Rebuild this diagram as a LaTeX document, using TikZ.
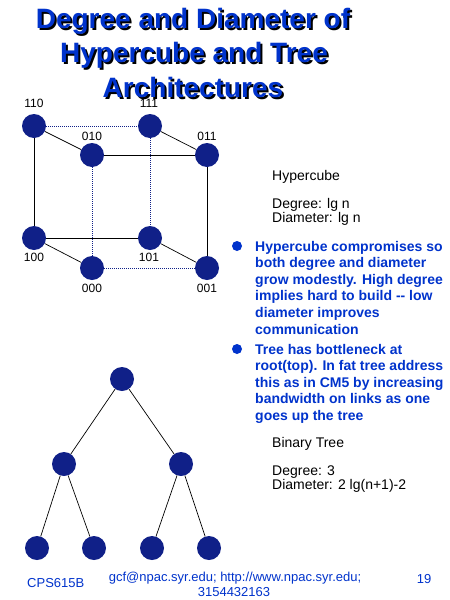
\documentclass[tikz,border=0pt]{standalone}
\usepackage{fontspec}
\setmainfont{Liberation Sans}
\definecolor{navy}{RGB}{16,32,136}
\definecolor{tblue}{RGB}{0,51,204}
\begin{document}
\begin{tikzpicture}[x=1pt,y=-1pt,
  vtx/.style={circle,fill=navy,minimum size=24pt,inner sep=0pt},
  lbl/.style={font=\fontsize{12}{14}\selectfont,anchor=base,inner sep=0pt},
  solidedge/.style={draw=black,line width=0.7pt},
  hidden/.style={draw=navy,line width=1pt,densely dotted},
  info/.style={font=\fontsize{14}{14}\selectfont,anchor=base west,inner sep=0pt},
  btext/.style={font=\fontsize{14}{14}\selectfont\bfseries,text=tblue,anchor=base west,inner sep=0pt},
  bdot/.style={circle,fill=tblue,minimum size=10pt,inner sep=0pt},
  ttl/.style={font=\fontsize{28}{28}\selectfont\bfseries,anchor=base,inner sep=0pt},
  foot/.style={font=\fontsize{13}{13}\selectfont,text=tblue,inner sep=0pt}]
\useasboundingbox (0,0) rectangle (450,600);
\fill[white] (0,0) rectangle (450,600);

% title with shadow
\node[ttl,text=black] (t1s) at (195,30) {Degree and Diameter of};
\node[ttl,text=tblue] (t1) at (193,28) {Degree and Diameter of};
\node[ttl,text=black] (t2s) at (196,64) {Hypercube and Tree};
\node[ttl,text=tblue] (t2) at (194,62) {Hypercube and Tree};
\node[ttl,text=black] (t3s) at (195,99) {Architectures};
\node[ttl,text=tblue] (t3) at (193,97) {Architectures};

% hypercube
\node[vtx] (n110) at (34,126) {};
\node[vtx] (n111) at (150,126) {};
\node[vtx] (n010) at (92,155) {};
\node[vtx] (n011) at (207,155) {};
\node[vtx] (n100) at (34,238) {};
\node[vtx] (n101) at (150,238) {};
\node[vtx] (n000) at (92,268) {};
\node[vtx] (n001) at (207,268) {};

\draw[hidden] (n110) -- (n111);
\draw[hidden] (n111) -- (n101);
\draw[hidden] (n010) -- (n000);
\draw[hidden] (n000) -- (n001);
\draw[solidedge] (n110) -- (n010);
\draw[solidedge] (n111) -- (n011);
\draw[solidedge] (n010) -- (n011);
\draw[solidedge] (n110) -- (n100);
\draw[solidedge] (n011) -- (n001);
\draw[solidedge] (n100) -- (n101);
\draw[solidedge] (n100) -- (n000);
\draw[solidedge] (n101) -- (n001);

\node[lbl] (l110) at (34,107) {110};
\node[lbl] (l111) at (149,107) {111};
\node[lbl] (l010) at (92,140.5) {010};
\node[lbl] (l011) at (207,140.5) {011};
\node[lbl] (l100) at (34,261.5) {100};
\node[lbl] (l101) at (149,261.5) {101};
\node[lbl] (l000) at (92,292) {000};
\node[lbl] (l001) at (207,292) {001};

% tree
\node[vtx] (r) at (122,379) {};
\node[vtx] (a) at (64,464) {};
\node[vtx] (b) at (181,464) {};
\node[vtx] (a1) at (37,548) {};
\node[vtx] (a2) at (94,548) {};
\node[vtx] (b1) at (152,548) {};
\node[vtx] (b2) at (209,548) {};
\draw[solidedge] (r) -- (a);
\draw[solidedge] (r) -- (b);
\draw[solidedge] (a) -- (a1);
\draw[solidedge] (a) -- (a2);
\draw[solidedge] (b) -- (b1);
\draw[solidedge] (b) -- (b2);

% right-hand info
\node[info] (h1) at (272,180) {Hypercube};
\node[info] (h2) at (272,208) {Degree: lg n};
\node[info] (h3) at (272,222) {Diameter: lg n};

\node[bdot] (d1) at (237,246) {};
\node[btext] (p11) at (255,251) {Hypercube compromises so};
\node[btext] (p12) at (255,267.6) {both degree and diameter};
\node[btext] (p13) at (255,284.2) {grow modestly. High degree};
\node[btext] (p14) at (255,300.8) {implies hard to build -{}- low};
\node[btext] (p15) at (255,317.4) {diameter improves};
\node[btext] (p16) at (255,334) {communication};

\node[bdot] (d2) at (237,349) {};
\node[btext] (p21) at (255,354) {Tree has bottleneck at};
\node[btext] (p22) at (255,370.6) {root(top). In fat tree address};
\node[btext] (p23) at (255,387.2) {this as in CM5 by increasing};
\node[btext] (p24) at (255,403.8) {bandwidth on links as one};
\node[btext] (p25) at (255,420.4) {goes up the tree};

\node[info] (bt1) at (272,447) {Binary Tree};
\node[info] (bt2) at (272,475) {Degree: 3};
\node[info] (bt3) at (272,489) {Diameter: 2 lg(n+1)-2};

% footer
\node[foot,anchor=base west] (f1) at (27,587) {CPS615B};
\node[foot,anchor=base] (f2) at (235,581) {gcf@npac.syr.edu; http://www.npac.syr.edu;};
\node[foot,anchor=base] (f3) at (234,596) {3154432163};
\node[foot,anchor=base] (f4) at (424,583) {19};
\end{tikzpicture}
\end{document}
